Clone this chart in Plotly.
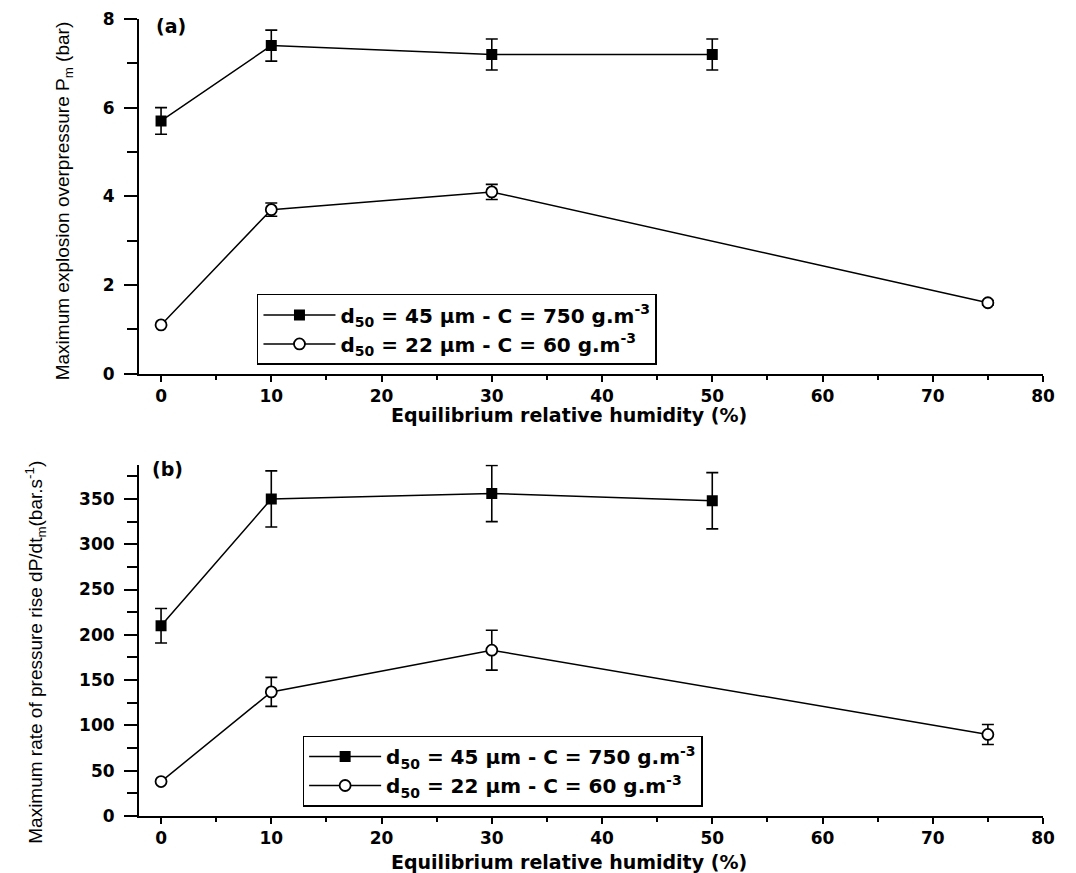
import plotly.graph_objects as go

# ---- data ----
x_sq = [0, 10, 30, 50]
x_ci = [0, 10, 30, 75]

pm_sq = [5.7, 7.4, 7.2, 7.2]
pm_sq_err = [0.3, 0.35, 0.35, 0.35]
pm_ci = [1.1, 3.7, 4.1, 1.6]
pm_ci_err = [0.0, 0.15, 0.17, 0.05]

dp_sq = [210, 350, 356, 348]
dp_sq_err = [19, 31, 31, 31]
dp_ci = [38, 137, 183, 90]
dp_ci_err = [0, 16, 22, 11]

name_sq = "d<sub>50</sub> = 45 µm - C = 750 g.m<sup>-3</sup>"
name_ci = "d<sub>50</sub> = 22 µm - C = 60 g.m<sup>-3</sup>"

xtitle = "Equilibrium relative humidity (%)"
ytitle_a = "Maximum explosion overpressure P<sub>m</sub> (bar)"
ytitle_b = "Maximum rate of pressure rise dP/dt<sub>m</sub>(bar.s<sup>-1</sup>)"

FONT = "DejaVu Sans"
YFONT = "Liberation Sans, Arial"

fig = go.Figure()

def add_pair(xa, ya, leg, ysq, esq, yci, eci):
    fig.add_trace(go.Scatter(
        x=x_sq, y=ysq, name=name_sq, xaxis=xa, yaxis=ya, legend=leg,
        mode="lines+markers",
        line=dict(color="black", width=1.5),
        marker=dict(symbol="square", size=11, color="black"),
        error_y=dict(type="data", array=esq, color="black", thickness=1.6, width=6),
    ))
    fig.add_trace(go.Scatter(
        x=x_ci, y=yci, name=name_ci, xaxis=xa, yaxis=ya, legend=leg,
        mode="lines+markers",
        line=dict(color="black", width=1.5),
        marker=dict(symbol="circle", size=11, color="white",
                    line=dict(color="black", width=1.8)),
        error_y=dict(type="data", array=eci, color="black", thickness=1.6, width=6),
    ))

add_pair("x", "y", "legend", pm_sq, pm_sq_err, pm_ci, pm_ci_err)
add_pair("x2", "y2", "legend2", dp_sq, dp_sq_err, dp_ci, dp_ci_err)

tickfont = dict(family=FONT, size=17, color="black", weight="bold")

xcommon = dict(
    range=[-2, 80], dtick=10, tick0=0,
    showline=True, linecolor="black", linewidth=2,
    ticks="outside", ticklen=6, tickwidth=2, tickcolor="black",
    minor=dict(ticks="outside", dtick=5, ticklen=4, tickwidth=2, tickcolor="black"),
    showgrid=False, zeroline=False, tickfont=tickfont,
    ticklabeloverflow="allow", automargin=False,
)
ycommon = dict(
    showline=True, linecolor="black", linewidth=2,
    ticks="outside", ticklen=13, tickwidth=2, tickcolor="black",
    showgrid=False, zeroline=False, tickfont=tickfont,
    ticklabelstandoff=6, ticklabeloverflow="allow", automargin=False,
)

legfont = dict(family=FONT, size=20, color="black", weight="bold")

fig.update_layout(
    width=1068, height=865,
    margin=dict(l=131, r=33, t=11, b=57, autoexpand=False),
    paper_bgcolor="white", plot_bgcolor="white",
    xaxis=dict(domain=[0, 1], anchor="y", **xcommon),
    yaxis=dict(domain=[0.555, 1], anchor="x", range=[0, 8], dtick=2,
               minor=dict(ticks="outside", dtick=1, ticklen=10, tickwidth=2, tickcolor="black"),
               **ycommon),
    xaxis2=dict(domain=[0, 1], anchor="y2", **xcommon),
    yaxis2=dict(domain=[0, 0.441], anchor="x2", range=[0, 388], dtick=50,
                minor=dict(ticks="outside", dtick=25, ticklen=10, tickwidth=2, tickcolor="black"),
                **ycommon),
    legend=dict(x=0.1305, y=0.655, xanchor="left", yanchor="top",
                bordercolor="black", borderwidth=1.5, bgcolor="white",
                font=legfont, tracegroupgap=0, itemwidth=72),
    legend2=dict(x=0.181, y=0.101, xanchor="left", yanchor="top",
                 bordercolor="black", borderwidth=1.5, bgcolor="white",
                 font=legfont, tracegroupgap=0, itemwidth=72),
    showlegend=True,
)

ann = []
xt_font = dict(family=FONT, size=19, color="black", weight="bold")
ann.append(dict(text=xtitle, x=0.476, y=0.503, xref="paper", yref="paper",
                xanchor="center", yanchor="middle", showarrow=False, font=xt_font))
ann.append(dict(text=xtitle, x=0.476, y=-0.0575, xref="paper", yref="paper",
                xanchor="center", yanchor="middle", showarrow=False, font=xt_font))
ann.append(dict(text=ytitle_a, x=-0.083, y=0.7725, xref="paper", yref="paper",
                xanchor="center", yanchor="middle", showarrow=False, textangle=-90,
                font=dict(family=YFONT, size=19, color="black")))
ann.append(dict(text=ytitle_b, x=-0.114, y=0.206, xref="paper", yref="paper",
                xanchor="center", yanchor="middle", showarrow=False, textangle=-90,
                font=dict(family=YFONT, size=19, color="black")))
ann.append(dict(text="(a)", x=0.035, y=0.991, xref="paper", yref="paper",
                xanchor="center", yanchor="middle", showarrow=False,
                font=dict(family=FONT, size=19, color="black", weight="bold")))
ann.append(dict(text="(b)", x=0.032, y=0.436, xref="paper", yref="paper",
                xanchor="center", yanchor="middle", showarrow=False,
                font=dict(family=FONT, size=19, color="black", weight="bold")))
fig.update_layout(annotations=ann)

fig.write_html("out.html")
